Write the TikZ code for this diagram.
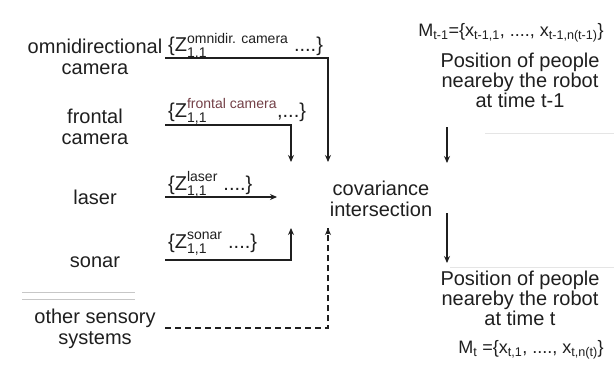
\documentclass[tikz,border=0pt]{standalone}
\usepackage{amsmath}
\usepackage{fontspec}
\setmainfont{Liberation Sans}
\usetikzlibrary{arrows.meta}
\definecolor{ink}{rgb}{0.12,0.12,0.12}
\definecolor{supred}{rgb}{0.45,0.25,0.28}
\begin{document}
\begin{tikzpicture}[x=1pt,y=-1pt,
  lbl/.style={font=\fontsize{20}{21}\selectfont, align=center, inner sep=0pt, text=ink},
  zl/.style={font=\fontsize{20}{21}\selectfont, anchor=base west, inner sep=0pt, text=ink},
  fl/.style={font=\fontsize{18}{20}\selectfont, inner sep=0pt, text=ink},
  conn/.style={line width=1.4pt, draw=ink},
  arr/.style={conn, -{Stealth[length=7pt,width=6pt]}},
  dconn/.style={conn, dash pattern=on 6pt off 4pt},
  faint/.style={draw=black!22, line width=0.8pt}]
\useasboundingbox[fill=white] (0,0) rectangle (614,380);

% faint separator lines
\draw[faint] (22,292) -- (135,292);
\draw[faint] (22,299) -- (135,299);
\draw[faint, draw=black!10] (485,133) -- (614,133);
\draw[faint, draw=black!10] (450,267) -- (614,267);

% left labels
\node[lbl] (omni) at (95,57) {omnidirectional\\camera};
\node[lbl] (front) at (95,127) {frontal\\camera};
\node[lbl] (laser) at (95,197) {laser};
\node[lbl] (sonar) at (95,262) {sonar};
\node[lbl] (other) at (95,329) {other sensory\\systems};

% measurement labels
\node[zl] (zomni) at (168,52) {$\text{\{Z}^{\text{omnidir. camera}}_{\text{1,1}}\text{ ....\}}$};
\node[zl] (zfront) at (168,117) {$\text{\{Z}^{\text{\color{supred}frontal camera}}_{\text{1,1}}\text{,...\}}$};
\node[zl] (zlaser) at (168,190) {$\text{\{Z}^{\text{laser}}_{\text{1,1}}\text{ ....\}}$};
\node[zl] (zsonar) at (168,248) {$\text{\{Z}^{\text{sonar}}_{\text{1,1}}\text{ ....\}}$};

% central node
\node[lbl] (ci) at (381,199) {covariance\\intersection};

% right column
\node[fl] (mprev) at (511,33) {M$_{\text{t-1}}$=\{x$_{\text{t-1,1}}$, ...., x$_{\text{t-1,n(t-1)}}$\}};
\node[lbl, font=\fontsize{20}{20}\selectfont] (pprev) at (520,80) {Position of people\\neareby the robot\\at time t-1};
\node[lbl, font=\fontsize{20}{20}\selectfont] (pnow) at (520,298) {Position of people\\neareby the robot\\at time t};
\node[fl] (mnow) at (531,350) {M$_{\text{t}}$ =\{x$_{\text{t,1}}$, ...., x$_{\text{t,n(t)}}$\}};

% coordinates
\coordinate (so) at (165,58);
\coordinate (co) at (328,58);
\coordinate (eo) at (328,162);
\coordinate (sf) at (165,125);
\coordinate (cf) at (291,125);
\coordinate (ef) at (291,162);
\coordinate (sl) at (165,197);
\coordinate (el) at (277,197);
\coordinate (ss) at (165,260);
\coordinate (cs) at (291,260);
\coordinate (es) at (291,228);
\coordinate (sx) at (165,328);
\coordinate (cx) at (328,328);
\coordinate (ex) at (328,228);
\coordinate (r1s) at (447,127);
\coordinate (r1e) at (447,163);
\coordinate (r2s) at (447,213);
\coordinate (r2e) at (447,263);

% connectors
\draw[arr] (so) -- (co) -- (eo);
\draw[arr] (sf) -- (cf) -- (ef);
\draw[arr] (sl) -- (el);
\draw[arr] (ss) -- (cs) -- (es);
\draw[dconn] (sx) -- (cx) -- (ex);
\draw[arr] (cx |- ex) ++(0,6) -- (ex);
\draw[arr] (r1s) -- (r1e);
\draw[arr] (r2s) -- (r2e);
\end{tikzpicture}
\end{document}
